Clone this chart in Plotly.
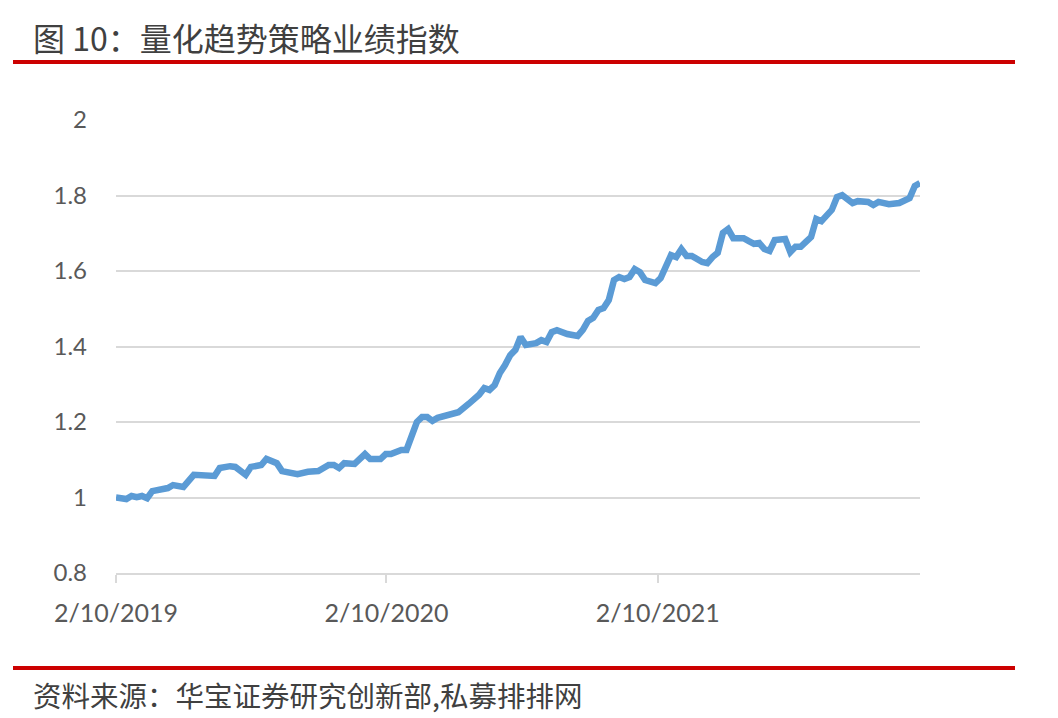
import pandas as pd
import plotly.graph_objects as go

# ---- data (weekly index) ----
start_date = "2019-02-10"
week_offsets = [0, 2, 3, 4, 5, 6, 7, 8, 10, 11, 13, 15, 17, 19, 20, 22, 23, 25, 26, 28,
                29, 31, 32, 35, 37, 39, 41, 42, 43, 44, 46, 48, 49, 51, 52, 53, 55, 56, 58, 59,
                60, 61, 62, 64, 65, 66, 68, 70, 71, 72, 73, 74, 75, 76, 77, 78, 79, 81, 82, 83,
                84, 85, 87, 89, 90, 91, 92, 93, 94, 95, 96, 97, 98, 99, 100, 101, 102, 104, 105, 106,
                107, 108, 109, 110, 111, 113, 114, 115, 116, 117, 118, 119, 121, 122, 123, 124, 125, 126, 127, 129,
                130, 131, 132, 133, 134, 135, 136, 138, 139, 140, 142, 143, 144, 145, 146, 147, 149, 150, 151, 153,
                154, 155]
index_values = [1.000, 0.996, 1.004, 1.001, 1.004, 0.998, 1.017, 1.020, 1.025, 1.033, 1.028, 1.060, 1.057, 1.057, 1.078, 1.083, 1.081, 1.060, 1.081, 1.086,
                1.102, 1.091, 1.070, 1.062, 1.068, 1.070, 1.086, 1.086, 1.078, 1.091, 1.089, 1.115, 1.102, 1.102, 1.115, 1.115, 1.126, 1.126, 1.200, 1.213,
                1.213, 1.203, 1.211, 1.219, 1.224, 1.226, 1.248, 1.272, 1.290, 1.285, 1.298, 1.330, 1.351, 1.377, 1.391, 1.425, 1.404, 1.409, 1.417, 1.412,
                1.438, 1.443, 1.433, 1.428, 1.444, 1.468, 1.476, 1.497, 1.502, 1.523, 1.576, 1.584, 1.579, 1.584, 1.605, 1.597, 1.576, 1.568, 1.581, 1.608,
                1.642, 1.637, 1.658, 1.640, 1.640, 1.624, 1.621, 1.637, 1.648, 1.701, 1.711, 1.687, 1.687, 1.679, 1.672, 1.674, 1.658, 1.653, 1.682, 1.685,
                1.650, 1.664, 1.664, 1.677, 1.690, 1.738, 1.732, 1.762, 1.796, 1.801, 1.780, 1.785, 1.783, 1.783, 1.775, 1.783, 1.777, 1.777, 1.780, 1.793,
                1.825, 1.833]

tick_dates = ["2019-02-10", "2020-02-10", "2021-02-10"]
tick_labels = ["2/10/2019", "2/10/2020", "2/10/2021"]
y_ticks = [0.8, 1, 1.2, 1.4, 1.6, 1.8, 2]
y_tick_labels = ["0.8", "1", "1.2", "1.4", "1.6", "1.8", "2"]

title_text = "图 10：量化趋势策略业绩指数"
source_text = "资料来源：华宝证券研究创新部,私募排排网"

dates = pd.Timestamp(start_date) + pd.to_timedelta([w * 7 for w in week_offsets], unit="D")

W, H = 1058, 718
L, R, T, B = 116, 920, 120, 573  # plot area pixel bounds
pw, ph = R - L, B - T

def px(x):
    return (x - L) / pw

def py(y):
    return (B - y) / ph

fig = go.Figure()
fig.add_trace(go.Scatter(x=dates, y=index_values, mode="lines",
                         line=dict(color="#5B9BD5", width=6.5, shape="linear"),
                         hoverinfo="x+y", showlegend=False))

fig.update_layout(
    width=W, height=H,
    margin=dict(l=L, r=W - R, t=T, b=H - B, pad=0),
    paper_bgcolor="white", plot_bgcolor="white",
    font=dict(family="Lato, 'Noto Sans CJK SC', sans-serif", color="#595959"),
    xaxis=dict(type="date", range=[dates[0], dates[-1]],
               tickmode="array", tickvals=tick_dates, ticktext=tick_labels,
               showgrid=False, zeroline=False,
               showline=True, linecolor="#D9D9D9", linewidth=1.5,
               ticks="outside", tickcolor="#D9D9D9", ticklen=8, tickwidth=1.5,
               ticklabelstandoff=9,
               tickfont=dict(size=25, color="#595959")),
    yaxis=dict(range=[0.8, 2.0], tickmode="array", tickvals=y_ticks, ticktext=y_tick_labels,
               showgrid=True, gridcolor="#D9D9D9", gridwidth=1.5,
               zeroline=False, showline=False, ticks="",
               ticklabelstandoff=28,
               tickfont=dict(size=24, color="#595959")),
    shapes=[
        dict(type="line", xref="paper", yref="paper", x0=px(13), x1=px(1015), y0=py(62), y1=py(62),
             line=dict(color="#CC0000", width=4)),
        dict(type="line", xref="paper", yref="paper", x0=px(13), x1=px(1015), y0=py(668), y1=py(668),
             line=dict(color="#CC0000", width=4)),
    ],
    annotations=[
        dict(text=title_text, xref="paper", yref="paper", x=px(31), y=py(37),
             xanchor="left", yanchor="middle", showarrow=False,
             font=dict(family="'Noto Sans CJK SC', sans-serif", size=32, color="#404040")),
        dict(text=source_text, xref="paper", yref="paper", x=px(31), y=py(694),
             xanchor="left", yanchor="middle", showarrow=False,
             font=dict(family="'Noto Sans CJK SC', sans-serif", size=28.5, color="#404040")),
    ],
)

fig.write_html("out.html", config={"displayModeBar": False})
with open("out.html", "r", encoding="utf-8") as f:
    html = f.read()
html = html.replace("<head>", "<head><style>html,body{margin:0;padding:0;overflow:hidden}</style>", 1)
with open("out.html", "w", encoding="utf-8") as f:
    f.write(html)
